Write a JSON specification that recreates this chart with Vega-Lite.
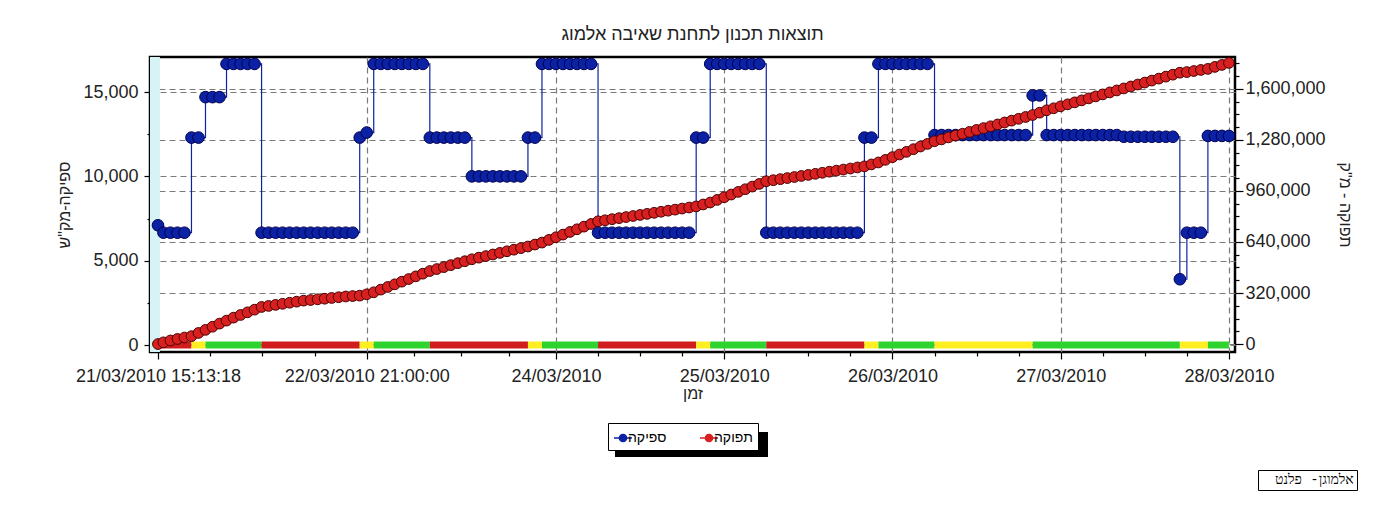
{
  "$schema": "https://vega.github.io/schema/vega-lite/v6.json",
  "width": 1085,
  "height": 295,
  "autosize": {"type": "none"},
  "padding": {"left": 150, "top": 57, "right": 156, "bottom": 153},
  "background": "white",
  "title": {"text": "תוצאות תכנון לתחנת שאיבה אלמוג", "font": "Liberation Sans", "fontSize": 18, "fontWeight": "normal", "color": "#222", "offset": 12, "dy": 18, "anchor": "middle", "baseline": "bottom"},
  "config": {
    "font": "Liberation Sans",
    "view": {"stroke": "#000", "strokeWidth": 2.5},
    "axis": {"labelFont": "Liberation Sans", "titleFont": "Liberation Sans", "labelFontSize": 18, "labelColor": "#222", "titleFontSize": 16, "titleFontWeight": "normal", "titleColor": "#222", "tickColor": "#000", "tickWidth": 1.2, "gridColor": "#7a7a7a", "gridDash": [6, 4], "gridWidth": 1.2, "domain": false}
  },
  "datasets": {
    "band": [{"a": "2010-03-21T14:05:00Z", "b": "2010-03-21T15:30:00Z"}],
    "tariff": [
      {"start": "2010-03-21T15:13:18Z", "end": "2010-03-21T20:00:00Z", "tariff": "peak"},
      {"start": "2010-03-21T20:00:00Z", "end": "2010-03-21T22:00:00Z", "tariff": "shoulder"},
      {"start": "2010-03-21T22:00:00Z", "end": "2010-03-22T06:00:00Z", "tariff": "off"},
      {"start": "2010-03-22T06:00:00Z", "end": "2010-03-22T20:00:00Z", "tariff": "peak"},
      {"start": "2010-03-22T20:00:00Z", "end": "2010-03-22T22:00:00Z", "tariff": "shoulder"},
      {"start": "2010-03-22T22:00:00Z", "end": "2010-03-23T06:00:00Z", "tariff": "off"},
      {"start": "2010-03-23T06:00:00Z", "end": "2010-03-23T20:00:00Z", "tariff": "peak"},
      {"start": "2010-03-23T20:00:00Z", "end": "2010-03-23T22:00:00Z", "tariff": "shoulder"},
      {"start": "2010-03-23T22:00:00Z", "end": "2010-03-24T06:00:00Z", "tariff": "off"},
      {"start": "2010-03-24T06:00:00Z", "end": "2010-03-24T20:00:00Z", "tariff": "peak"},
      {"start": "2010-03-24T20:00:00Z", "end": "2010-03-24T22:00:00Z", "tariff": "shoulder"},
      {"start": "2010-03-24T22:00:00Z", "end": "2010-03-25T06:00:00Z", "tariff": "off"},
      {"start": "2010-03-25T06:00:00Z", "end": "2010-03-25T20:00:00Z", "tariff": "peak"},
      {"start": "2010-03-25T20:00:00Z", "end": "2010-03-25T22:00:00Z", "tariff": "shoulder"},
      {"start": "2010-03-25T22:00:00Z", "end": "2010-03-26T06:00:00Z", "tariff": "off"},
      {"start": "2010-03-26T06:00:00Z", "end": "2010-03-26T20:00:00Z", "tariff": "shoulder"},
      {"start": "2010-03-26T20:00:00Z", "end": "2010-03-27T17:00:00Z", "tariff": "off"},
      {"start": "2010-03-27T17:00:00Z", "end": "2010-03-27T21:00:00Z", "tariff": "shoulder"},
      {"start": "2010-03-27T21:00:00Z", "end": "2010-03-28T00:00:00Z", "tariff": "off"}
    ],
    "series": [
      {"t": "2010-03-21T15:13:18Z", "q": 7100, "v": 0},
      {"t": "2010-03-21T16:00:00Z", "q": 6660, "v": 10500},
      {"t": "2010-03-21T17:00:00Z", "q": 6660, "v": 22200},
      {"t": "2010-03-21T18:00:00Z", "q": 6660, "v": 31800},
      {"t": "2010-03-21T19:00:00Z", "q": 6660, "v": 40500},
      {"t": "2010-03-21T20:00:00Z", "q": 12300, "v": 49200},
      {"t": "2010-03-21T21:00:00Z", "q": 12300, "v": 69500},
      {"t": "2010-03-21T22:00:00Z", "q": 14700, "v": 88800},
      {"t": "2010-03-21T23:00:00Z", "q": 14700, "v": 108500},
      {"t": "2010-03-22T00:00:00Z", "q": 14700, "v": 128200},
      {"t": "2010-03-22T01:00:00Z", "q": 16670, "v": 146900},
      {"t": "2010-03-22T02:00:00Z", "q": 16670, "v": 165600},
      {"t": "2010-03-22T03:00:00Z", "q": 16670, "v": 182200},
      {"t": "2010-03-22T04:00:00Z", "q": 16670, "v": 198900},
      {"t": "2010-03-22T05:00:00Z", "q": 16670, "v": 215600},
      {"t": "2010-03-22T06:00:00Z", "q": 6660, "v": 232300},
      {"t": "2010-03-22T07:00:00Z", "q": 6660, "v": 238900},
      {"t": "2010-03-22T08:00:00Z", "q": 6660, "v": 245600},
      {"t": "2010-03-22T09:00:00Z", "q": 6660, "v": 252200},
      {"t": "2010-03-22T10:00:00Z", "q": 6660, "v": 258900},
      {"t": "2010-03-22T11:00:00Z", "q": 6660, "v": 265600},
      {"t": "2010-03-22T12:00:00Z", "q": 6660, "v": 272200},
      {"t": "2010-03-22T13:00:00Z", "q": 6660, "v": 275900},
      {"t": "2010-03-22T14:00:00Z", "q": 6660, "v": 280500},
      {"t": "2010-03-22T15:00:00Z", "q": 6660, "v": 284200},
      {"t": "2010-03-22T16:00:00Z", "q": 6660, "v": 288800},
      {"t": "2010-03-22T17:00:00Z", "q": 6660, "v": 293500},
      {"t": "2010-03-22T18:00:00Z", "q": 6660, "v": 298200},
      {"t": "2010-03-22T19:00:00Z", "q": 6660, "v": 300800},
      {"t": "2010-03-22T20:00:00Z", "q": 12300, "v": 303500},
      {"t": "2010-03-22T21:00:00Z", "q": 12600, "v": 311800},
      {"t": "2010-03-22T22:00:00Z", "q": 16670, "v": 324400},
      {"t": "2010-03-22T23:00:00Z", "q": 16670, "v": 341100},
      {"t": "2010-03-23T00:00:00Z", "q": 16670, "v": 357700},
      {"t": "2010-03-23T01:00:00Z", "q": 16670, "v": 374400},
      {"t": "2010-03-23T02:00:00Z", "q": 16670, "v": 391100},
      {"t": "2010-03-23T03:00:00Z", "q": 16670, "v": 407700},
      {"t": "2010-03-23T04:00:00Z", "q": 16670, "v": 424400},
      {"t": "2010-03-23T05:00:00Z", "q": 16670, "v": 441100},
      {"t": "2010-03-23T06:00:00Z", "q": 12300, "v": 457800},
      {"t": "2010-03-23T07:00:00Z", "q": 12300, "v": 470100},
      {"t": "2010-03-23T08:00:00Z", "q": 12300, "v": 482400},
      {"t": "2010-03-23T09:00:00Z", "q": 12300, "v": 494700},
      {"t": "2010-03-23T10:00:00Z", "q": 12300, "v": 507000},
      {"t": "2010-03-23T11:00:00Z", "q": 12300, "v": 519300},
      {"t": "2010-03-23T12:00:00Z", "q": 10000, "v": 531600},
      {"t": "2010-03-23T13:00:00Z", "q": 10000, "v": 541600},
      {"t": "2010-03-23T14:00:00Z", "q": 10000, "v": 551600},
      {"t": "2010-03-23T15:00:00Z", "q": 10000, "v": 561600},
      {"t": "2010-03-23T16:00:00Z", "q": 10000, "v": 571600},
      {"t": "2010-03-23T17:00:00Z", "q": 10000, "v": 581600},
      {"t": "2010-03-23T18:00:00Z", "q": 10000, "v": 591600},
      {"t": "2010-03-23T19:00:00Z", "q": 10000, "v": 601600},
      {"t": "2010-03-23T20:00:00Z", "q": 12300, "v": 611600},
      {"t": "2010-03-23T21:00:00Z", "q": 12300, "v": 623900},
      {"t": "2010-03-23T22:00:00Z", "q": 16670, "v": 636200},
      {"t": "2010-03-23T23:00:00Z", "q": 16670, "v": 652900},
      {"t": "2010-03-24T00:00:00Z", "q": 16670, "v": 669500},
      {"t": "2010-03-24T01:00:00Z", "q": 16670, "v": 686200},
      {"t": "2010-03-24T02:00:00Z", "q": 16670, "v": 702900},
      {"t": "2010-03-24T03:00:00Z", "q": 16670, "v": 719500},
      {"t": "2010-03-24T04:00:00Z", "q": 16670, "v": 736200},
      {"t": "2010-03-24T05:00:00Z", "q": 16670, "v": 752900},
      {"t": "2010-03-24T06:00:00Z", "q": 6660, "v": 769600},
      {"t": "2010-03-24T07:00:00Z", "q": 6660, "v": 776200},
      {"t": "2010-03-24T08:00:00Z", "q": 6660, "v": 782900},
      {"t": "2010-03-24T09:00:00Z", "q": 6660, "v": 789500},
      {"t": "2010-03-24T10:00:00Z", "q": 6660, "v": 796200},
      {"t": "2010-03-24T11:00:00Z", "q": 6660, "v": 802900},
      {"t": "2010-03-24T12:00:00Z", "q": 6660, "v": 809500},
      {"t": "2010-03-24T13:00:00Z", "q": 6660, "v": 816200},
      {"t": "2010-03-24T14:00:00Z", "q": 6660, "v": 822800},
      {"t": "2010-03-24T15:00:00Z", "q": 6660, "v": 829500},
      {"t": "2010-03-24T16:00:00Z", "q": 6660, "v": 836100},
      {"t": "2010-03-24T17:00:00Z", "q": 6660, "v": 842800},
      {"t": "2010-03-24T18:00:00Z", "q": 6660, "v": 849500},
      {"t": "2010-03-24T19:00:00Z", "q": 6660, "v": 856100},
      {"t": "2010-03-24T20:00:00Z", "q": 12300, "v": 862800},
      {"t": "2010-03-24T21:00:00Z", "q": 12300, "v": 875100},
      {"t": "2010-03-24T22:00:00Z", "q": 16670, "v": 887400},
      {"t": "2010-03-24T23:00:00Z", "q": 16670, "v": 904100},
      {"t": "2010-03-25T00:00:00Z", "q": 16670, "v": 920700},
      {"t": "2010-03-25T01:00:00Z", "q": 16670, "v": 937400},
      {"t": "2010-03-25T02:00:00Z", "q": 16670, "v": 954100},
      {"t": "2010-03-25T03:00:00Z", "q": 16670, "v": 970700},
      {"t": "2010-03-25T04:00:00Z", "q": 16670, "v": 987400},
      {"t": "2010-03-25T05:00:00Z", "q": 16670, "v": 1004100},
      {"t": "2010-03-25T06:00:00Z", "q": 6660, "v": 1020800},
      {"t": "2010-03-25T07:00:00Z", "q": 6660, "v": 1027400},
      {"t": "2010-03-25T08:00:00Z", "q": 6660, "v": 1034100},
      {"t": "2010-03-25T09:00:00Z", "q": 6660, "v": 1040700},
      {"t": "2010-03-25T10:00:00Z", "q": 6660, "v": 1047400},
      {"t": "2010-03-25T11:00:00Z", "q": 6660, "v": 1054000},
      {"t": "2010-03-25T12:00:00Z", "q": 6660, "v": 1060700},
      {"t": "2010-03-25T13:00:00Z", "q": 6660, "v": 1067400},
      {"t": "2010-03-25T14:00:00Z", "q": 6660, "v": 1074000},
      {"t": "2010-03-25T15:00:00Z", "q": 6660, "v": 1080700},
      {"t": "2010-03-25T16:00:00Z", "q": 6660, "v": 1087300},
      {"t": "2010-03-25T17:00:00Z", "q": 6660, "v": 1094000},
      {"t": "2010-03-25T18:00:00Z", "q": 6660, "v": 1100600},
      {"t": "2010-03-25T19:00:00Z", "q": 6660, "v": 1107300},
      {"t": "2010-03-25T20:00:00Z", "q": 12300, "v": 1114000},
      {"t": "2010-03-25T21:00:00Z", "q": 12300, "v": 1126300},
      {"t": "2010-03-25T22:00:00Z", "q": 16670, "v": 1138600},
      {"t": "2010-03-25T23:00:00Z", "q": 16670, "v": 1155200},
      {"t": "2010-03-26T00:00:00Z", "q": 16670, "v": 1171900},
      {"t": "2010-03-26T01:00:00Z", "q": 16670, "v": 1188600},
      {"t": "2010-03-26T02:00:00Z", "q": 16670, "v": 1205200},
      {"t": "2010-03-26T03:00:00Z", "q": 16670, "v": 1221900},
      {"t": "2010-03-26T04:00:00Z", "q": 16670, "v": 1238600},
      {"t": "2010-03-26T05:00:00Z", "q": 16670, "v": 1255200},
      {"t": "2010-03-26T06:00:00Z", "q": 12450, "v": 1271900},
      {"t": "2010-03-26T07:00:00Z", "q": 12450, "v": 1283400},
      {"t": "2010-03-26T08:00:00Z", "q": 12450, "v": 1295800},
      {"t": "2010-03-26T09:00:00Z", "q": 12450, "v": 1307300},
      {"t": "2010-03-26T10:00:00Z", "q": 12450, "v": 1318700},
      {"t": "2010-03-26T11:00:00Z", "q": 12450, "v": 1330200},
      {"t": "2010-03-26T12:00:00Z", "q": 12450, "v": 1342600},
      {"t": "2010-03-26T13:00:00Z", "q": 12450, "v": 1354100},
      {"t": "2010-03-26T14:00:00Z", "q": 12450, "v": 1365500},
      {"t": "2010-03-26T15:00:00Z", "q": 12450, "v": 1377000},
      {"t": "2010-03-26T16:00:00Z", "q": 12450, "v": 1389400},
      {"t": "2010-03-26T17:00:00Z", "q": 12450, "v": 1400900},
      {"t": "2010-03-26T18:00:00Z", "q": 12450, "v": 1412300},
      {"t": "2010-03-26T19:00:00Z", "q": 12450, "v": 1423800},
      {"t": "2010-03-26T20:00:00Z", "q": 14800, "v": 1436200},
      {"t": "2010-03-26T21:00:00Z", "q": 14800, "v": 1451000},
      {"t": "2010-03-26T22:00:00Z", "q": 12450, "v": 1465800},
      {"t": "2010-03-26T23:00:00Z", "q": 12450, "v": 1478300},
      {"t": "2010-03-27T00:00:00Z", "q": 12450, "v": 1490700},
      {"t": "2010-03-27T01:00:00Z", "q": 12450, "v": 1503200},
      {"t": "2010-03-27T02:00:00Z", "q": 12450, "v": 1515600},
      {"t": "2010-03-27T03:00:00Z", "q": 12450, "v": 1528100},
      {"t": "2010-03-27T04:00:00Z", "q": 12450, "v": 1540500},
      {"t": "2010-03-27T05:00:00Z", "q": 12450, "v": 1553000},
      {"t": "2010-03-27T06:00:00Z", "q": 12450, "v": 1565400},
      {"t": "2010-03-27T07:00:00Z", "q": 12450, "v": 1577900},
      {"t": "2010-03-27T08:00:00Z", "q": 12450, "v": 1590300},
      {"t": "2010-03-27T09:00:00Z", "q": 12350, "v": 1602800},
      {"t": "2010-03-27T10:00:00Z", "q": 12350, "v": 1615100},
      {"t": "2010-03-27T11:00:00Z", "q": 12350, "v": 1627500},
      {"t": "2010-03-27T12:00:00Z", "q": 12350, "v": 1639800},
      {"t": "2010-03-27T13:00:00Z", "q": 12350, "v": 1652200},
      {"t": "2010-03-27T14:00:00Z", "q": 12350, "v": 1664500},
      {"t": "2010-03-27T15:00:00Z", "q": 12350, "v": 1676900},
      {"t": "2010-03-27T16:00:00Z", "q": 12350, "v": 1689200},
      {"t": "2010-03-27T17:00:00Z", "q": 3900, "v": 1701600},
      {"t": "2010-03-27T18:00:00Z", "q": 6660, "v": 1705500},
      {"t": "2010-03-27T19:00:00Z", "q": 6660, "v": 1712100},
      {"t": "2010-03-27T20:00:00Z", "q": 6660, "v": 1718800},
      {"t": "2010-03-27T21:00:00Z", "q": 12400, "v": 1725500},
      {"t": "2010-03-27T22:00:00Z", "q": 12400, "v": 1737900},
      {"t": "2010-03-27T23:00:00Z", "q": 12400, "v": 1750300},
      {"t": "2010-03-28T00:00:00Z", "q": 12400, "v": 1762700}
    ]
  },
  "layer": [
    {
      "layer": [
        {
          "data": {"name": "band"},
          "mark": {"type": "rect", "color": "#d6f4f6"},
          "encoding": {
            "x": {"field": "a", "type": "temporal", "title": "זמן", "scale": {"type": "utc"}},
            "x2": {"field": "b"}
          }
        },
        {
          "data": {"name": "band"},
          "mark": {"type": "square", "color": "#000", "filled": true, "clip": true},
          "encoding": {
            "x": {"field": "a", "type": "temporal", "title": "זמן", "scale": {"type": "utc"}},
            "y": {"datum": 40000, "type": "quantitative", "title": "ספיקה-מק\"ש"},
            "opacity": {
              "datum": "צל",
              "type": "ordinal",
              "scale": {"range": [1]},
              "legend": {
                "orient": "none", "legendX": 465, "legendY": 311, "title": null, "zindex": 1,
                "padding": 0, "labelExpr": "''", "labelOffset": 0, "labelFontSize": 1,
                "symbolType": "M-1,-0.1634H1V0.1634H-1Z", "symbolSize": 23409, "symbolStrokeWidth": 0,
                "symbolFillColor": "#000"
              }
            }
          }
        },
        {
          "data": {"name": "tariff"},
          "mark": {"type": "rule", "strokeWidth": 7, "strokeCap": "butt"},
          "encoding": {
            "x": {"field": "start", "type": "temporal", "title": "זמן", "scale": {"type": "utc"}},
            "x2": {"field": "end"},
            "y": {"datum": 0, "type": "quantitative", "title": "ספיקה-מק\"ש"},
            "stroke": {"field": "tariff", "type": "nominal", "scale": {"domain": ["peak", "shoulder", "off"], "range": ["#d01c1c", "#ffee22", "#2ed32e"]}, "legend": null}
          }
        },
        {
          "data": {"name": "series"},
          "encoding": {
            "x": {
              "field": "t", "type": "temporal", "title": "זמן",
              "scale": {"type": "utc", "domain": [1269180300000, 1269737520000]},
              "axis": {
                "values": [1269184398000, 1269211198500, 1269237999000, 1269264799500, 1269291600000, 1269315900000, 1269340200000, 1269364500000, 1269388800000, 1269410400000, 1269432000000, 1269453600000, 1269475200000, 1269496800000, 1269518400000, 1269540000000, 1269561600000, 1269583200000, 1269604800000, 1269626400000, 1269648000000, 1269669600000, 1269691200000, 1269712800000, 1269734400000],
                "labelExpr": "indexof([1269184398000,1269291600000,1269388800000,1269475200000,1269561600000,1269648000000,1269734400000], +datum.value) < 0 ? '' : ((+datum.value == 1269184398000 || +datum.value == 1269291600000) ? utcFormat(datum.value, '%d/%m/%Y %H:%M:%S') : utcFormat(datum.value, '%d/%m/%Y'))",
                "tickSize": {"condition": {"test": "indexof([1269184398000,1269291600000,1269388800000,1269475200000,1269561600000,1269648000000,1269734400000], +datum.value) >= 0", "value": 7}, "value": 4},
                "grid": true,
                "gridOpacity": {"condition": {"test": "indexof([1269291600000,1269388800000,1269475200000,1269561600000,1269648000000,1269734400000], +datum.value) >= 0", "value": 1}, "value": 0},
                "labelPadding": 8,
                "titlePadding": 0,
                "labelOverlap": false,
                "labelFlush": false,
                "labelBound": false
              }
            },
            "y": {
              "field": "q", "type": "quantitative", "title": "ספיקה-מק\"ש",
              "scale": {"domain": [-415, 17080], "nice": false, "zero": false},
              "axis": {
                "orient": "left",
                "grid": true,
                "values": [0, 1250, 2500, 3750, 5000, 6250, 7500, 8750, 10000, 11250, 12500, 13750, 15000, 16250],
                "labelExpr": "datum.value % 5000 == 0 ? format(datum.value, ',') : ''",
                "tickSize": {"condition": {"test": "datum.value % 5000 == 0", "value": 6}, "value": 3},
                "gridOpacity": {"condition": {"test": "datum.value % 5000 == 0", "value": 1}, "value": 0},
                "labelPadding": 6,
                "titlePadding": 10
              }
            },
            "color": {
              "datum": "ספיקה",
              "scale": {"domain": ["ספיקה", "תפוקה"], "range": ["#0c22a4", "#d82020"]},
              "legend": {
                "orient": "none", "legendX": 458, "legendY": 366, "direction": "horizontal", "title": null, "zindex": 2,
                "padding": 5, "strokeColor": "#000", "fillColor": "#fff",
                "labelFont": "Liberation Sans", "labelFontSize": 14, "labelColor": "#000",
                "symbolType": "M-1,0L1,0M-0.4,0A0.4,0.4,0,1,1,0.4,0A0.4,0.4,0,1,1,-0.4,0Z",
                "symbolSize": 324, "symbolStrokeWidth": 1.5, "columnPadding": 30, "labelOffset": -5,
                "encode": {"symbols": {"update": {"fill": {"scale": "color", "field": "value"}, "stroke": {"scale": "color", "field": "value"}}}}
              }
            }
          },
          "layer": [
            {"mark": {"type": "line", "interpolate": "step-after", "strokeWidth": 1.2}},
            {
              "mark": {"type": "point", "filled": true, "size": 135, "stroke": "#000050", "strokeWidth": 1, "opacity": 1},
              "encoding": {
                "shape": {
                  "datum": "אלמוגן- פלנט",
                  "scale": {"range": ["circle"]},
                  "legend": {
                    "orient": "none", "legendX": 1108, "legendY": 413, "title": null,
                    "symbolSize": 0, "symbolOpacity": 0, "symbolStrokeWidth": 0, "labelOffset": 0,
                    "padding": 3, "strokeColor": "#000", "fillColor": "#fff",
                    "labelFont": "DejaVu Sans Mono", "labelFontSize": 14, "labelColor": "#000"
                  }
                }
              }
            }
          ]
        }
      ]
    },
    {
      "data": {"name": "series"},
      "encoding": {
        "x": {"field": "t", "type": "temporal", "title": "זמן", "scale": {"type": "utc"}},
        "y": {
          "field": "v", "type": "quantitative", "title": "תפוקה - מ\"ק",
          "scale": {"domain": [-50000, 1800000], "nice": false, "zero": false},
          "axis": {
            "orient": "right",
            "grid": true,
            "values": [0, 80000, 160000, 240000, 320000, 400000, 480000, 560000, 640000, 720000, 800000, 880000, 960000, 1040000, 1120000, 1200000, 1280000, 1360000, 1440000, 1520000, 1600000, 1680000, 1760000],
            "labelExpr": "datum.value % 320000 == 0 ? format(datum.value, ',') : ''",
            "tickSize": {"condition": {"test": "datum.value % 320000 == 0", "value": 8}, "value": 4},
            "gridOpacity": {"condition": {"test": "datum.value % 320000 == 0", "value": 1}, "value": 0},
            "labelPadding": 2,
            "titlePadding": 11
          }
        },
        "color": {"datum": "תפוקה"}
      },
      "layer": [
        {"mark": {"type": "line", "strokeWidth": 1, "color": "#7a0000"}},
        {"mark": {"type": "point", "filled": true, "size": 115, "stroke": "#4a0000", "strokeWidth": 1, "opacity": 1}}
      ]
    }
  ],
  "resolve": {"scale": {"y": "independent"}}
}
